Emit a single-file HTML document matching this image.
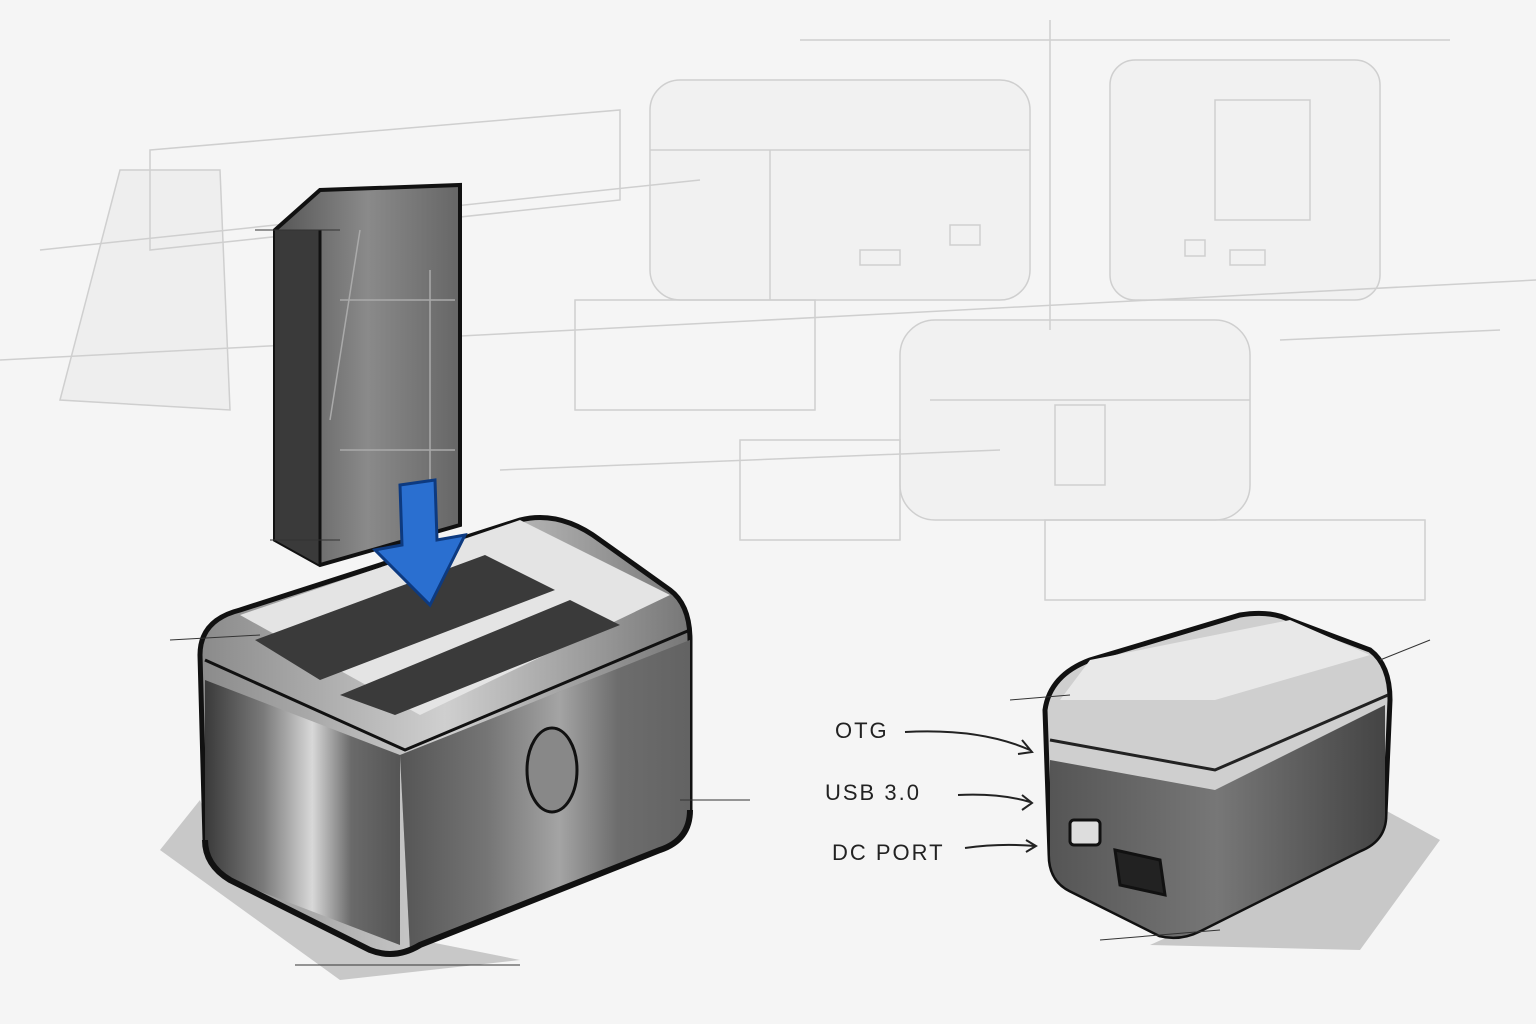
<!DOCTYPE html>
<html><head><meta charset="utf-8"><style>
html,body{margin:0;padding:0;background:#f4f4f4;}
svg{display:block}
text{font-family:"Liberation Sans",sans-serif;}
</style></head><body>
<svg width="1536" height="1024" viewBox="0 0 1536 1024" xmlns="http://www.w3.org/2000/svg">
<defs>
<linearGradient id="side" x1="0" x2="1">
<stop offset="0" stop-color="#3a3a3a"/><stop offset=".3" stop-color="#7a7a7a"/><stop offset=".55" stop-color="#d8d8d8"/><stop offset=".75" stop-color="#6a6a6a"/><stop offset="1" stop-color="#555"/></linearGradient>
<linearGradient id="front" x1="0" x2="1">
<stop offset="0" stop-color="#8a8a8a"/><stop offset=".5" stop-color="#cfcfcf"/><stop offset="1" stop-color="#777"/></linearGradient>
<linearGradient id="hdd" x1="0" x2="1">
<stop offset="0" stop-color="#555"/><stop offset=".5" stop-color="#8a8a8a"/><stop offset="1" stop-color="#666"/></linearGradient>
<linearGradient id="small" x1="0" x2="1">
<stop offset="0" stop-color="#555"/><stop offset=".5" stop-color="#777"/><stop offset="1" stop-color="#444"/></linearGradient>
</defs>
<rect width="1536" height="1024" fill="#f5f5f5"/>
<g fill="none" stroke="#cfcfcf" stroke-width="1.5">
<rect x="650" y="80" width="380" height="220" rx="30" fill="#f1f1f1"/>
<line x1="650" y1="150" x2="1030" y2="150"/><line x1="770" y1="150" x2="770" y2="300"/>
<rect x="860" y="250" width="40" height="15"/><rect x="950" y="225" width="30" height="20"/>
<rect x="1110" y="60" width="270" height="240" rx="25" fill="#f1f1f1"/>
<rect x="1215" y="100" width="95" height="120"/>
<rect x="1185" y="240" width="20" height="16"/><rect x="1230" y="250" width="35" height="15"/>
<rect x="900" y="320" width="350" height="200" rx="35" fill="#f1f1f1"/>
<line x1="930" y1="400" x2="1250" y2="400"/><rect x="1055" y="405" width="50" height="80"/>
<path d="M120 170 L220 170 L230 410 L60 400 Z" fill="#eeeeee"/>
<path d="M150 150 L620 110 L620 200 L150 250 Z"/>
<rect x="575" y="300" width="240" height="110"/>
<rect x="1045" y="520" width="380" height="80"/>
<rect x="740" y="440" width="160" height="100"/>
<line x1="0" y1="360" x2="1536" y2="280"/><line x1="40" y1="250" x2="700" y2="180"/>
<line x1="1050" y1="20" x2="1050" y2="330"/><line x1="800" y1="40" x2="1450" y2="40"/>
<line x1="500" y1="470" x2="1000" y2="450"/><line x1="1280" y1="340" x2="1500" y2="330"/>
</g>
<path d="M200 800 L160 850 L340 980 L520 960 L420 940 L230 880 Z" fill="#bdbdbd" opacity=".8"/>
<path d="M1385 810 L1440 840 L1360 950 L1150 945 L1360 850 Z" fill="#bdbdbd" opacity=".8"/>
<!-- HDD -->
<path d="M275 230 L320 190 L460 185 L460 525 L320 565 L275 540 Z" fill="url(#hdd)" stroke="#111" stroke-width="4"/>
<path d="M275 230 L320 230 L320 565 L275 540Z" fill="#3a3a3a"/>
<path d="M320 230 L320 565" stroke="#111" stroke-width="3" fill="none"/>
<path d="M330 420 L360 230 M430 270 L430 520 M340 300 L455 300 M340 450 L455 450" stroke="#aaa" stroke-width="1.5" fill="none"/>
<!-- main dock -->
<path d="M200 655 Q200 620 240 610 L520 520 Q560 510 600 540 L670 590 Q690 605 690 640 L690 810 Q690 840 660 850 L420 945 Q395 960 370 950 L230 880 Q205 865 205 840 Z" fill="url(#front)" stroke="#111" stroke-width="5"/>
<path d="M240 615 L520 520 L670 595 L420 715 Z" fill="#e4e4e4"/>
<path d="M205 680 L400 755 L400 945 L230 880 Q205 865 205 840Z" fill="url(#side)"/>
<path d="M400 755 L690 640 L690 810 Q690 840 660 850 L410 950Z" fill="#707070"/>
<path d="M400 755 L690 640 L690 810 Q690 840 660 850 L410 950Z" fill="url(#side)" opacity=".5"/>
<path d="M205 660 L405 750 L690 630" fill="none" stroke="#111" stroke-width="3"/>
<path d="M255 640 L485 555 L555 590 L320 680 Z" fill="#3a3a3a"/>
<path d="M340 695 L570 600 L620 625 L395 715 Z" fill="#3a3a3a"/>
<ellipse cx="552" cy="770" rx="25" ry="42" fill="#888" stroke="#111" stroke-width="3"/>
<path d="M205 840 Q205 865 230 880 L370 950 Q395 960 420 945 L660 850 Q690 840 690 810" fill="none" stroke="#111" stroke-width="6"/>
<path d="M400 485 L435 480 L437 540 L465 535 L430 605 L375 550 L402 545 Z" fill="#2a6fd0" stroke="#0d3a80" stroke-width="3"/>
<!-- small dock -->
<path d="M1045 710 Q1050 675 1090 660 L1240 615 Q1270 610 1290 620 L1370 650 Q1390 665 1390 700 L1385 815 Q1385 840 1360 850 L1200 930 Q1180 940 1160 935 L1070 890 Q1050 880 1050 855 Z" fill="#cfcfcf" stroke="#111" stroke-width="5"/>
<path d="M1050 760 L1215 790 L1385 705 L1385 815 Q1385 840 1360 850 L1200 930 Q1180 940 1160 935 L1070 890 Q1050 880 1050 855Z" fill="url(#small)"/>
<path d="M1050 740 L1215 770 L1388 695" fill="none" stroke="#222" stroke-width="3"/>
<path d="M1090 660 L1290 620 L1370 655 L1215 700 L1060 700Z" fill="#e8e8e8"/>
<rect x="1070" y="820" width="30" height="25" rx="4" fill="#ddd" stroke="#111" stroke-width="3"/>
<path d="M1115 850 L1160 860 L1165 895 L1120 885 Z" fill="#222" stroke="#111" stroke-width="3"/>
<g font-size="22" fill="#222" letter-spacing="2">
<text x="835" y="738">OTG</text>
<text x="825" y="800">USB 3.0</text>
<text x="832" y="860">DC PORT</text>
</g>
<g fill="none" stroke="#222" stroke-width="2">
<path d="M905 732 Q980 728 1030 750 M1022 740 L1032 752 L1018 754"/>
<path d="M958 795 Q1000 793 1030 802 M1022 795 L1032 803 L1022 810"/>
<path d="M965 848 Q1000 843 1035 846 M1026 840 L1036 846 L1026 852"/>
</g>
<g stroke="#333" stroke-width="1" fill="none">
<line x1="170" y1="640" x2="260" y2="635"/><line x1="295" y1="965" x2="520" y2="965"/>
<line x1="680" y1="800" x2="750" y2="800"/><line x1="1010" y1="700" x2="1070" y2="695"/>
<line x1="1380" y1="660" x2="1430" y2="640"/><line x1="1100" y1="940" x2="1220" y2="930"/>
<line x1="255" y1="230" x2="340" y2="230"/><line x1="270" y1="540" x2="340" y2="540"/>
</g>
</svg>
</body></html>
